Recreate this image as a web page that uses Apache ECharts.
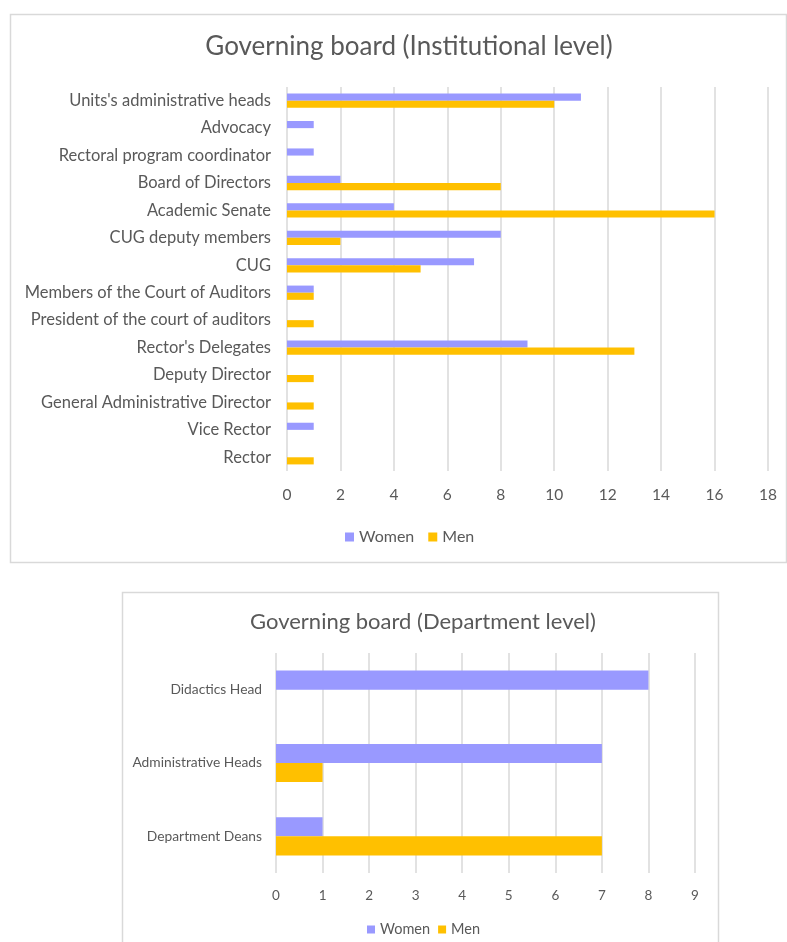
<!DOCTYPE html>
<html>
<head>
<meta charset="utf-8">
<script src="https://cdn.jsdelivr.net/npm/echarts@6/dist/echarts.min.js"></script>
<style>
  html, body { margin: 0; padding: 0; background: #ffffff; }
  #chart { width: 787px; height: 942px; }
</style>
</head>
<body>
<div id="chart"></div>
<script>
// Institutional-level roles, listed top to bottom
const instRoles = [
  "Units's administrative heads",
  "Advocacy",
  "Rectoral program coordinator",
  "Board of Directors",
  "Academic Senate",
  "CUG deputy members",
  "CUG",
  "Members of the Court of Auditors",
  "President of the court of auditors",
  "Rector's Delegates",
  "Deputy Director",
  "General Administrative Director",
  "Vice Rector",
  "Rector"
];
const instWomen = [11, 1, 1, 2, 4, 8, 7, 1, 0, 9, 0, 0, 1, 0];
const instMen   = [10, 0, 0, 8, 16, 2, 5, 1, 1, 13, 1, 1, 0, 1];

// Department-level roles, listed top to bottom
const deptRoles = ["Didactics Head", "Administrative Heads", "Department Deans"];
const deptWomen = [8, 7, 1];
const deptMen   = [0, 1, 7];

const seriesNames = ["Women", "Men"];
const colWomen = "#9999FF";
const colMen = "#FFC000";
const textCol = "#595959";
const gridCol = "#D9D9D9";
const font = "Lato, 'Open Sans', sans-serif";

const chart = echarts.init(document.getElementById('chart'), null, { renderer: 'canvas' });

function valueAxis(gridIndex, max, interval, fs, margin) {
  return {
    type: 'value', gridIndex: gridIndex, min: 0, max: max, interval: interval,
    axisLine: { show: false }, axisTick: { show: false },
    splitLine: { show: true, lineStyle: { color: gridCol, width: 1.5 } },
    axisLabel: { color: textCol, fontSize: fs, fontFamily: font, margin: margin }
  };
}
function catAxis(gridIndex, cats, fs, margin) {
  return {
    type: 'category', gridIndex: gridIndex, data: cats, inverse: true,
    axisLine: { show: false }, axisTick: { show: false },
    axisLabel: { color: textCol, fontSize: fs, fontFamily: font, margin: margin }
  };
}
function bar(name, data, color, xi, gap) {
  return {
    type: 'bar', name: name, data: data, xAxisIndex: xi, yAxisIndex: xi,
    itemStyle: { color: color }, barGap: '0%', barCategoryGap: gap,
    silent: true
  };
}

chart.setOption({
  animation: false,
  graphic: [
    { type: 'rect', shape: { x: 10.5, y: 14.5, width: 776, height: 548 },
      style: { fill: 'none', stroke: '#D9D9D9', lineWidth: 1.5 }, z: -1 },
    { type: 'rect', shape: { x: 122.5, y: 592.5, width: 596, height: 360 },
      style: { fill: 'none', stroke: '#D9D9D9', lineWidth: 1.5 }, z: -1 }
  ],
  title: [
    { text: 'Governing board (Institutional level)', left: 404, top: 29, textAlign: 'center',
      textStyle: { color: textCol, fontSize: 26, fontWeight: 'normal', fontFamily: font } },
    { text: 'Governing board (Department level)', left: 418, top: 606, textAlign: 'center',
      textStyle: { color: textCol, fontSize: 22, fontWeight: 'normal', fontFamily: font } }
  ],
  legend: [
    { data: seriesNames, left: 340, top: 524, itemWidth: 9, itemHeight: 9, itemGap: 14,
      icon: 'rect', textStyle: { color: textCol, fontSize: 16, fontFamily: font } },
    { data: seriesNames, left: 362, top: 917, itemWidth: 8, itemHeight: 8, itemGap: 8,
      icon: 'rect', textStyle: { color: textCol, fontSize: 14.5, fontFamily: font } }
  ],
  grid: [
    { left: 287, right: 19, top: 87, height: 384 },
    { left: 276, right: 92, top: 653, height: 220 }
  ],
  xAxis: [ valueAxis(0, 18, 2, 15.5, 16), valueAxis(1, 9, 1, 13.5, 16) ],
  yAxis: [ catAxis(0, instRoles, 16.5, 16), catAxis(1, deptRoles, 13.8, 14) ],
  series: [
    bar(seriesNames[0], instWomen, colWomen, 0, '48%'),
    bar(seriesNames[1], instMen, colMen, 0, '48%'),
    bar(seriesNames[0], deptWomen, colWomen, 1, '48%'),
    bar(seriesNames[1], deptMen, colMen, 1, '48%')
  ]
});
</script>
</body>
</html>
